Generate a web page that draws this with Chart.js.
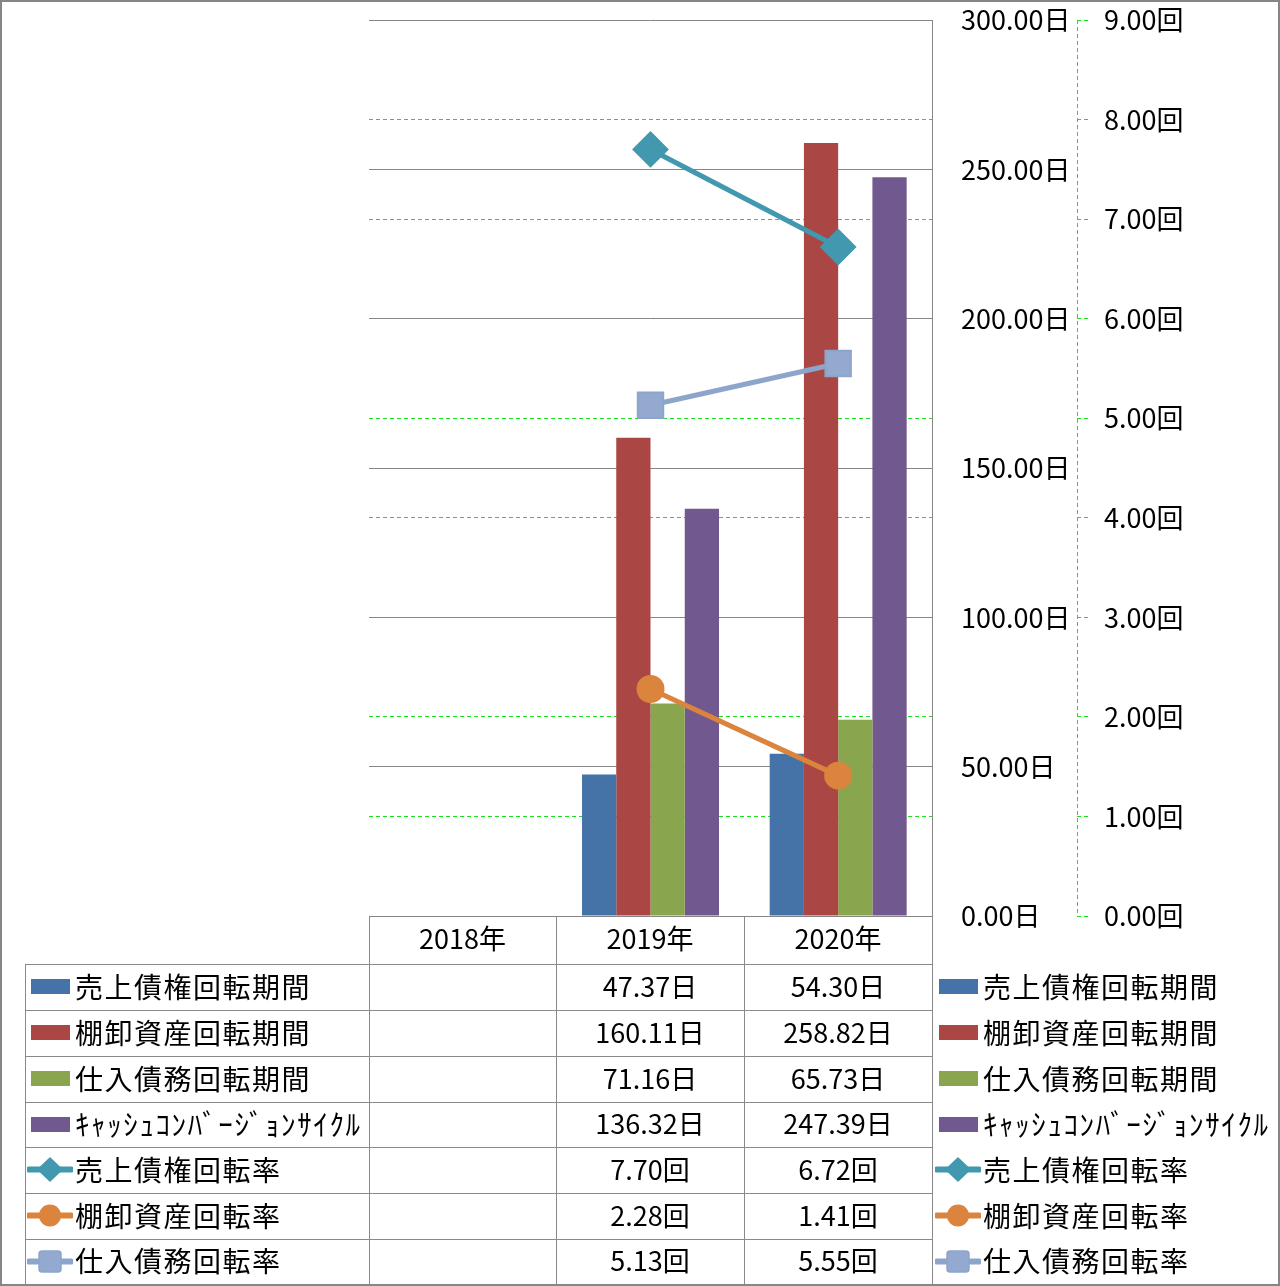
<!DOCTYPE html>
<html><head><meta charset="utf-8">
<script src="https://cdn.jsdelivr.net/npm/chart.js@4.4.0/dist/chart.umd.min.js"></script>
<style>
html,body{margin:0;padding:0;background:#fff;}
#wrap{position:relative;width:1280px;height:1286px;overflow:hidden;background:#fff;}
#c{position:absolute;left:0;top:0;}
.frame{position:absolute;left:0;top:0;width:1276px;height:1282px;border:2px solid #868686;pointer-events:none;}
.hl{position:absolute;height:0;border-top:1px solid #8a8a8a;}
.vl{position:absolute;width:0;border-left:1px solid #8a8a8a;}
.cell{position:absolute;display:flex;align-items:center;justify-content:center;font-family:'Noto Sans CJK JP';font-size:27px;color:#000;white-space:nowrap;}
.leg{position:absolute;display:flex;align-items:center;font-family:'Noto Sans CJK JP';font-size:28px;color:#000;white-space:nowrap;}
.leg svg{flex:none;}
.leg span{margin-left:2px;letter-spacing:1.5px;margin-top:-3px;}
.leg span.hw{letter-spacing:1.6px;font-size:29px;}
</style></head>
<body>
<div id="wrap">
<canvas id="c" width="1280" height="1286"></canvas>
<div id="tbl"></div>
<div class="frame"></div>
</div>
<script>
// ---- data ----
const categories = ['2018年', '2019年', '2020年'];
const seriesNames = ['売上債権回転期間', '棚卸資産回転期間', '仕入債務回転期間', 'ｷｬｯｼｭｺﾝﾊﾞｰｼﾞｮﾝｻｲｸﾙ', '売上債権回転率', '棚卸資産回転率', '仕入債務回転率'];
const receivableDays = [null, 47.37, 54.30];
const inventoryDays = [null, 160.11, 258.82];
const payableDays = [null, 71.16, 65.73];
const cashConversionCycle = [null, 136.32, 247.39];
const receivableTurnover = [null, 7.70, 6.72];
const inventoryTurnover = [null, 2.28, 1.41];
const payableTurnover = [null, 5.13, 5.55];
const dayAxisMin = 0, dayAxisMax = 300, dayAxisStep = 50;
const timesAxisMin = 0, timesAxisMax = 9, timesAxisStep = 1;

// ---- styles ----
const barColors = ['#4572A7', '#AA4643', '#89A54E', '#71588F'];
const lineColors = ['#4198AF', '#DB843D', '#8EA5CB'];
const lineFills = ['#4198AF', '#DB843D', '#93A9CF'];
const pointStyles = ['rectRot', 'circle', 'rect'];
const pointRadii = [17, 13, 18];
const GREEN = '#1ee01e';
const GRAY = '#868686';
const FONT = "'Noto Sans CJK JP'";
const AREA = { left: 369, top: 20, right: 932, bottom: 916 };

const barSeries = [receivableDays, inventoryDays, payableDays, cashConversionCycle];
const lineSeries = [receivableTurnover, inventoryTurnover, payableTurnover];

const datasets = [];
barSeries.forEach((d, i) => datasets.push({
  type: 'bar', label: seriesNames[i], data: d, yAxisID: 'y', order: 2,
  backgroundColor: barColors[i], borderWidth: 0,
  barPercentage: 1, categoryPercentage: 0.73
}));
lineSeries.forEach((d, i) => datasets.push({
  type: 'line', label: seriesNames[4 + i], data: d, yAxisID: 'y1', order: 1,
  borderColor: lineColors[i], borderWidth: 5, backgroundColor: lineFills[i],
  pointStyle: pointStyles[i], pointRadius: pointRadii[i], pointBackgroundColor: lineFills[i],
  pointBorderColor: lineColors[i], pointBorderWidth: 2, pointHoverRadius: pointRadii[i], fill: false, tension: 0
}));

const secondaryAxisLine = {
  id: 'secondaryAxisLine',
  afterDraw(chart) {
    const s = chart.scales.y1, ctx = chart.ctx;
    ctx.save();
    ctx.strokeStyle = GREEN; ctx.lineWidth = 1; ctx.setLineDash([4, 3]);
    ctx.beginPath(); ctx.moveTo(Math.round(s.left) + 0.5, s.top); ctx.lineTo(Math.round(s.left) + 0.5, s.bottom); ctx.stroke();
    ctx.restore();
  }
};

const chart = new Chart(document.getElementById('c'), {
  data: { labels: categories, datasets },
  options: {
    responsive: false, animation: false, devicePixelRatio: 1,
    layout: { padding: { left: AREA.left, top: AREA.top, right: 0, bottom: 1286 - AREA.bottom } },
    plugins: { legend: { display: false }, tooltip: { enabled: false } },
    scales: {
      x: { type: 'category', display: false, offset: true, grid: { display: false } },
      y: {
        position: 'right', weight: 0, min: dayAxisMin, max: dayAxisMax,
        ticks: { stepSize: dayAxisStep, padding: 2, color: '#000', font: { family: FONT, size: 27 },
          callback: v => v.toFixed(2) + '日' },
        grid: { color: GRAY, lineWidth: 1, drawTicks: true, tickLength: 27, tickColor: 'rgba(0,0,0,0)' },
        border: { display: true, color: GRAY, width: 1 },
        afterFit: s => { s.width = 145; }
      },
      y1: {
        position: 'right', weight: 1, min: timesAxisMin, max: timesAxisMax,
        ticks: { stepSize: timesAxisStep, padding: 2, color: '#000', font: { family: FONT, size: 27 },
          callback: v => v.toFixed(2) + '回' },
        grid: {
          drawOnChartArea: true, lineWidth: 1,
          color: c => (c.tick && Math.round(c.tick.value) % 3 === 0) ? 'rgba(0,0,0,0)' : GREEN,
          tickColor: GREEN, tickLength: 25, tickBorderDash: [4, 3, 4, 60]
        },
        border: { display: false, dash: [4, 3] },
        afterFit: s => { s.width = 203; }
      }
    }
  },
  plugins: [secondaryAxisLine]
});

// ---- data table (HTML) ----
const tbl = document.getElementById('tbl');
const colX = [369, 556, 744, 932];
const rowY = [964, 1010, 1056, 1102, 1147, 1193, 1239, 1284];
const headTop = 916;
function add(html) { tbl.insertAdjacentHTML('beforeend', html); }
rowY.slice(0, 7).forEach(y => add(`<div class="hl" style="left:25px;top:${y}px;width:907px"></div>`));
add(`<div class="vl" style="left:25px;top:964px;height:320px"></div>`);
colX.forEach(x => add(`<div class="vl" style="left:${x}px;top:${headTop}px;height:${1284 - headTop}px"></div>`));
categories.forEach((c, i) => add(`<div class="cell" style="left:${colX[i]}px;top:${headTop - 3}px;width:${colX[i + 1] - colX[i]}px;height:48px">${c}</div>`));
const allSeries = [...barSeries, ...lineSeries];
allSeries.forEach((d, r) => {
  const unit = r < 4 ? '日' : '回';
  d.forEach((v, i) => {
    if (v === null) return;
    add(`<div class="cell" style="left:${colX[i]}px;top:${rowY[r] - 2}px;width:${colX[i + 1] - colX[i]}px;height:${rowY[r + 1] - rowY[r]}px">${v.toFixed(2)}${unit}</div>`);
  });
});
function symbol(k) {
  if (k < 4) return `<svg width="46" height="30"><rect x="4" y="7" width="39" height="15" fill="${barColors[k]}"/></svg>`;
  const j = k - 4, col = lineColors[j], fill = lineFills[j];
  let m;
  if (j === 0) m = `<polygon points="23,3 35,14.5 23,26 11,14.5" fill="${fill}" stroke="${col}" stroke-width="1.5" stroke-linejoin="round"/>`;
  else if (j === 1) m = `<circle cx="23" cy="14.5" r="11" fill="${fill}"/>`;
  else m = `<rect x="12" y="4" width="22" height="21" rx="3" fill="${fill}" stroke="${col}" stroke-width="1.5"/>`;
  return `<svg width="46" height="30"><line x1="2" y1="14.5" x2="44" y2="14.5" stroke="${col}" stroke-width="6" stroke-linecap="round"/>${m}</svg>`;
}
seriesNames.forEach((n, k) => {
  const top = rowY[k], h = rowY[k + 1] - rowY[k];
  const cls = k === 3 ? ' class="hw"' : '';
  add(`<div class="leg" style="left:27px;top:${top}px;height:${h}px">${symbol(k)}<span${cls}>${n}</span></div>`);
  add(`<div class="leg" style="left:935px;top:${top}px;height:${h}px">${symbol(k)}<span${cls}>${n}</span></div>`);
});
</script>
</body></html>
